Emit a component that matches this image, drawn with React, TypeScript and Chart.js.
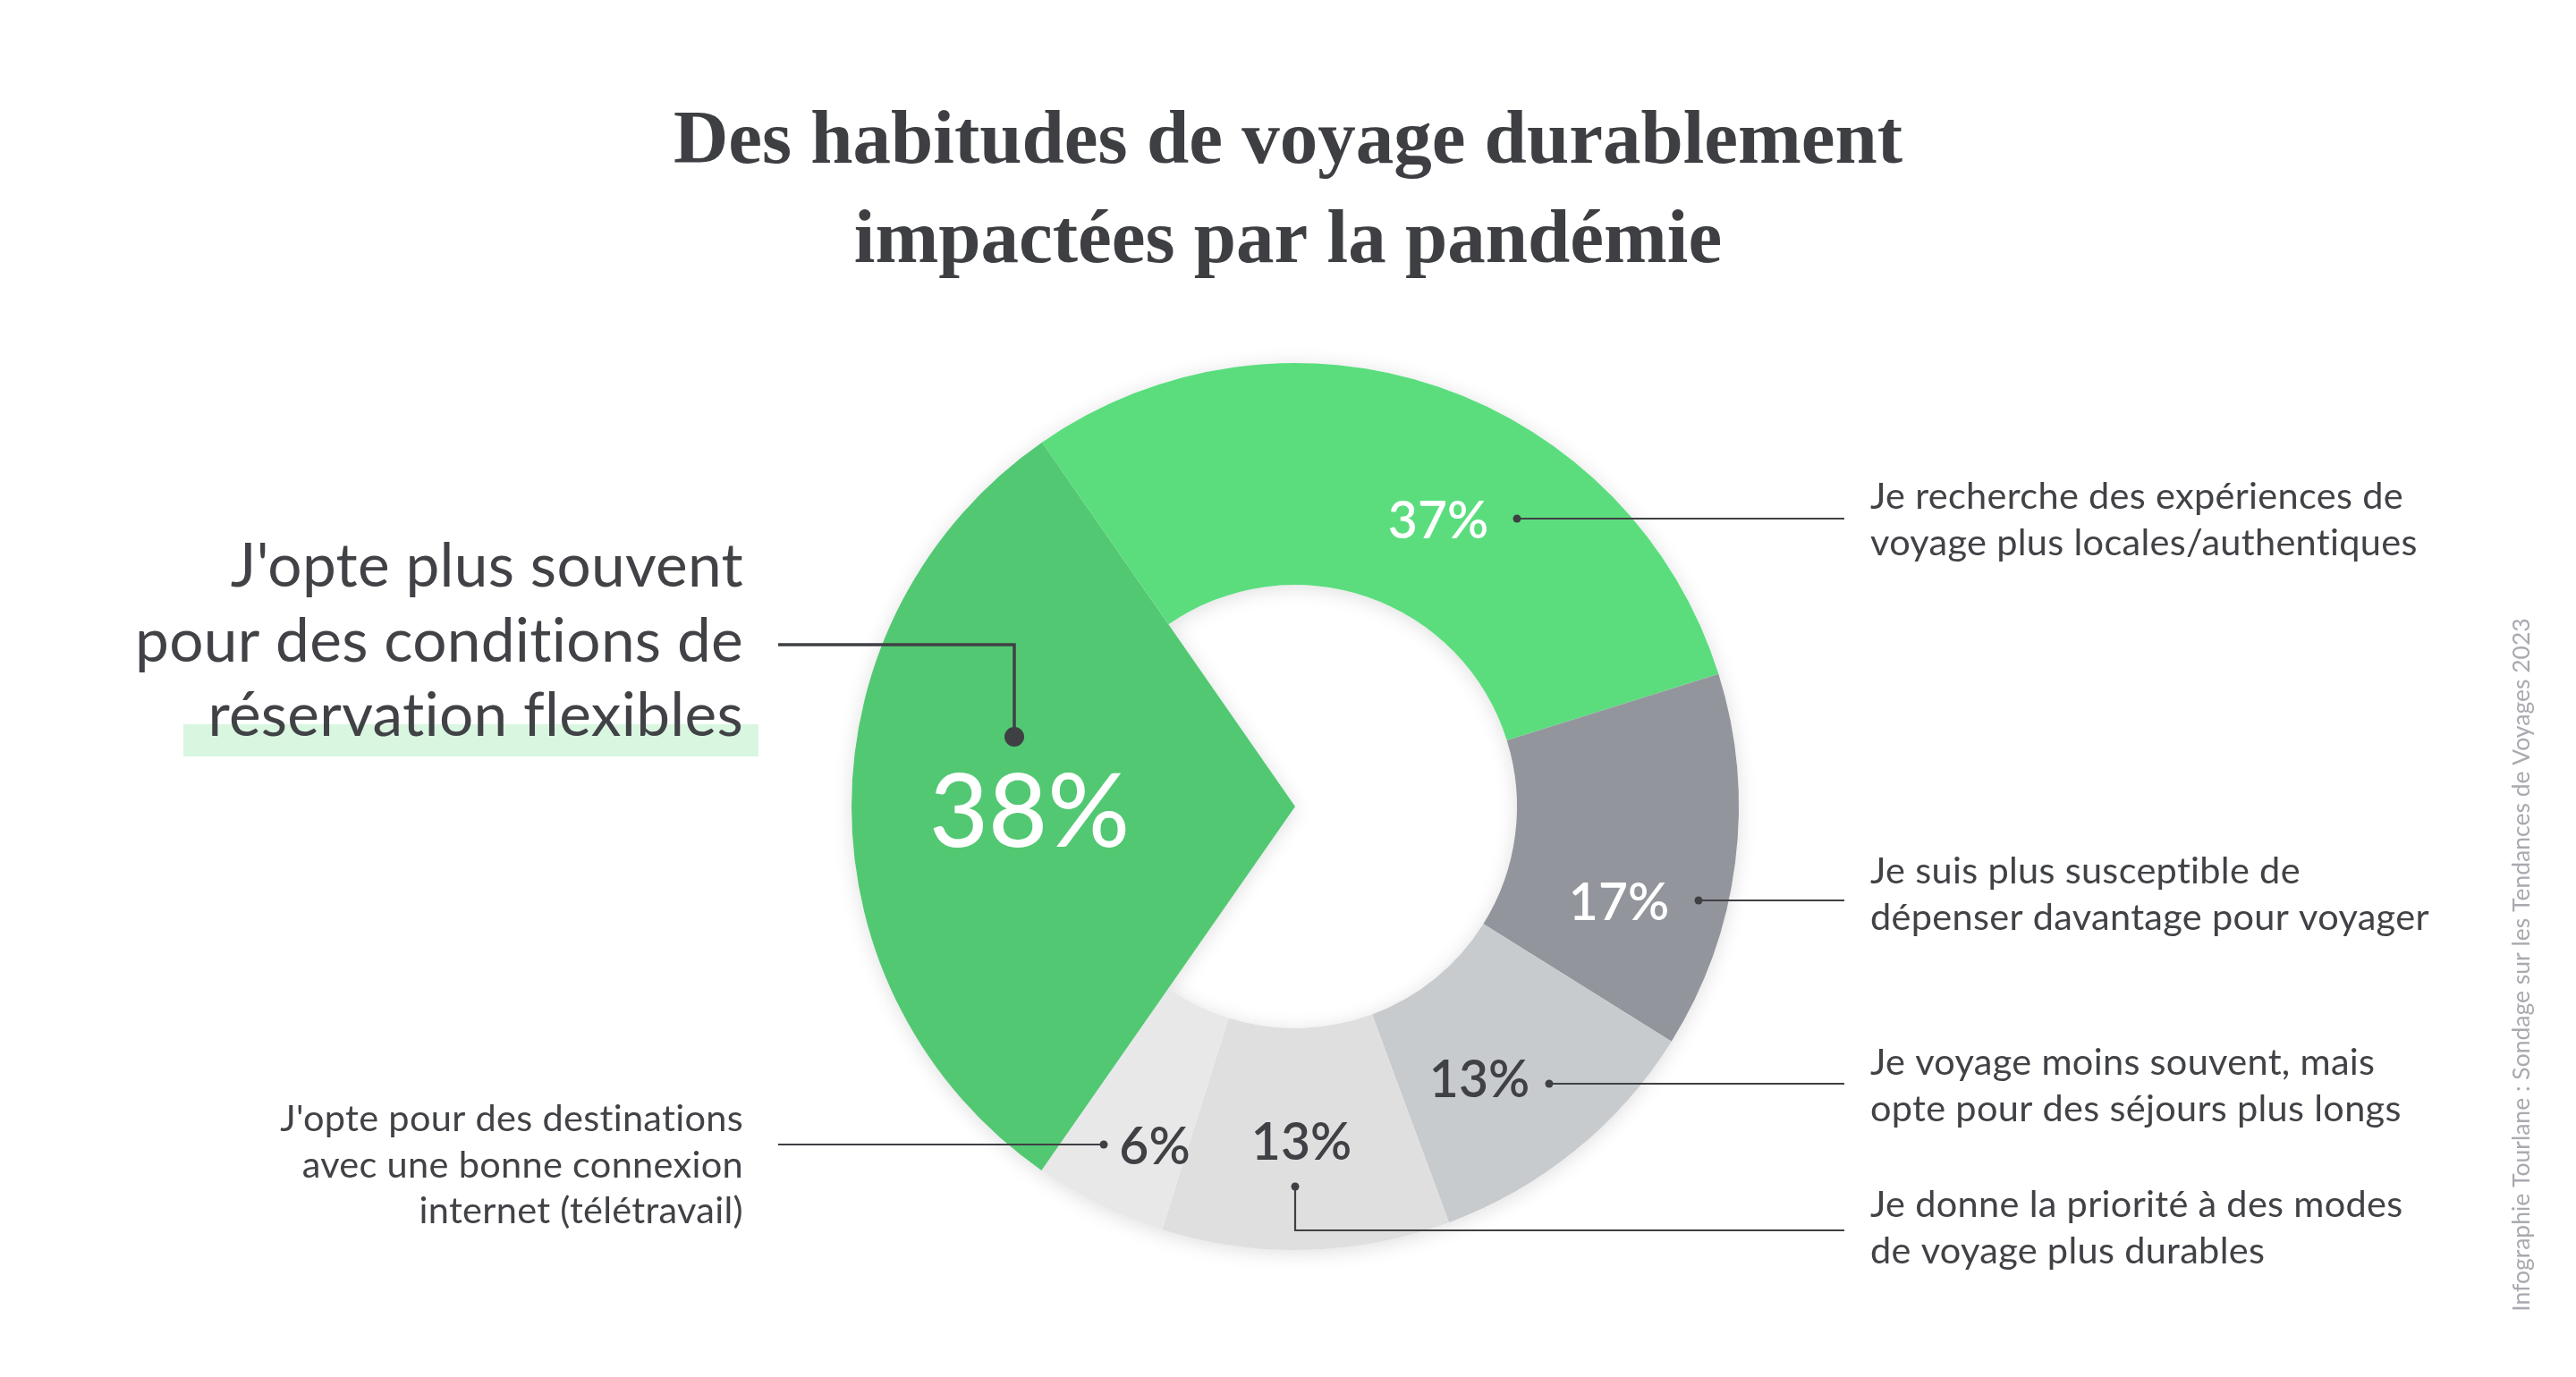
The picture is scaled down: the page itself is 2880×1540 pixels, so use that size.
import React, { useEffect, useRef } from "react";
import { Chart, registerables } from "chart.js";

Chart.register(...registerables);

// ---------- data ----------
const TITLE_LINES = ["Des habitudes de voyage durablement", "impactées par la pandémie"];

const categories = [
  "Je recherche des expériences de voyage plus locales/authentiques",
  "Je suis plus susceptible de dépenser davantage pour voyager",
  "Je voyage moins souvent, mais opte pour des séjours plus longs",
  "Je donne la priorité à des modes de voyage plus durables",
  "J'opte pour des destinations avec une bonne connexion internet (télétravail)",
  "J'opte plus souvent pour des conditions de réservation flexibles",
];

const values = [37, 17, 13, 13, 6, 38];

const categoryLines = [
  ["Je recherche des expériences de", "voyage plus locales/authentiques"],
  ["Je suis plus susceptible de", "dépenser davantage pour voyager"],
  ["Je voyage moins souvent, mais", "opte pour des séjours plus longs"],
  ["Je donne la priorité à des modes", "de voyage plus durables"],
  ["J'opte pour des destinations", "avec une bonne connexion", "internet (télétravail)"],
  ["J'opte plus souvent", "pour des conditions de", "réservation flexibles"],
];

const SOURCE_TEXT = "Infographie Tourlane : Sondage sur les Tendances de Voyages 2023";

// ---------- styles ----------
const sliceColors = ["#5BDD7E", "#93959C", "#C8CBCE", "#DFDFDF", "#E8E8E8", "#52C873"];
const valueColors = ["#FFFFFF", "#FFFFFF", "#404145", "#404145", "#404145", "#FFFFFF"];
const WEDGE_INDEX = 5;

const W = 2880;
const H = 1540;
const DARK = "#414246";
const SANS = "Lato, 'Open Sans', sans-serif";
const SERIF = "'Liberation Serif', 'DejaVu Serif', serif";

// layout of annotations (pixel positions)
const valuePos = [
  { x: 1608, y: 602, size: 57, weight: 600 },
  { x: 1810, y: 1029, size: 57, weight: 600 },
  { x: 1654, y: 1227, size: 57, weight: 600 },
  { x: 1455, y: 1297, size: 57, weight: 600 },
  { x: 1291, y: 1302, size: 57, weight: 600 },
  { x: 1151, y: 947, size: 114, weight: 500 },
];

const labelPos = [
  { x: 2091, y: 569, align: "left", size: 41.5, lh: 51.5 },
  { x: 2091, y: 988, align: "left", size: 41.5, lh: 51.5 },
  { x: 2091, y: 1202, align: "left", size: 41.5, lh: 51.5 },
  { x: 2091, y: 1361, align: "left", size: 41.5, lh: 51.5 },
  { x: 831, y: 1265, align: "right", size: 41.5, lh: 51.5 },
  { x: 831, y: 656, align: "right", size: 67.5, lh: 83.5 },
];

// connector polylines, first point is the dot
const connectors = [
  { pts: [[1696, 580], [2062, 580]], w: 2.2, r: 4.5 },
  { pts: [[1899, 1007], [2062, 1007]], w: 2.2, r: 4.5 },
  { pts: [[1732, 1212], [2062, 1212]], w: 2.2, r: 4.5 },
  { pts: [[1448, 1327], [1448, 1376], [2062, 1376]], w: 2.2, r: 4.5 },
  { pts: [[1234, 1280], [870, 1280]], w: 2.2, r: 4.5 },
  { pts: [[1134, 824], [1134, 721], [870, 721]], w: 3.5, r: 11 },
];

const ROTATION = -34.8;

const wedgePlugin = {
  id: "wedgeAndAnnotations",
  beforeDatasetsDraw(chart: any) {
    const meta = chart.getDatasetMeta(0);
    const arcs = meta.data;
    if (!arcs || !arcs.length) return;
    const w = arcs[WEDGE_INDEX];
    w.innerRadius = 0;
    const inner = arcs[0].innerRadius;
    const { x, y, outerRadius } = w;
    const ctx = chart.ctx;
    ctx.save();
    ctx.beginPath();
    ctx.arc(x, y, outerRadius, 0, Math.PI * 2);
    ctx.closePath();
    ctx.moveTo(x, y);
    ctx.lineTo(x + inner * Math.cos(w.endAngle), y + inner * Math.sin(w.endAngle));
    ctx.arc(x, y, inner, w.endAngle, w.startAngle + Math.PI * 2);
    ctx.closePath();
    ctx.shadowColor = "rgba(0,0,0,0.13)";
    ctx.shadowBlur = 22;
    ctx.shadowOffsetY = 3;
    ctx.fillStyle = "#ffffff";
    ctx.fill("evenodd");
    ctx.restore();
  },
  afterDraw(chart: any) {
    const ctx = chart.ctx as any;
    ctx.save();

    // highlight under the last line of the main label
    ctx.fillStyle = "#D9F6E0";
    ctx.fillRect(205, 810, 643, 36);

    // title
    ctx.fillStyle = "#3E3F43";
    ctx.textAlign = "center";
    ctx.textBaseline = "alphabetic";
    ctx.font = `bold 85px ${SERIF}`;
    ctx.fillText(TITLE_LINES[0], 1440, 182);
    ctx.fillText(TITLE_LINES[1], 1440, 293);

    // category labels
    if ("letterSpacing" in ctx) ctx.letterSpacing = "0.3px";
    categoryLines.forEach((lines, i) => {
      const p = labelPos[i];
      ctx.fillStyle = DARK;
      ctx.textAlign = p.align as CanvasTextAlign;
      ctx.font = `400 ${p.size}px ${SANS}`;
      lines.forEach((ln, k) => ctx.fillText(ln, p.x, p.y + k * p.lh));
    });
    if ("letterSpacing" in ctx) ctx.letterSpacing = "0px";

    // connectors
    ctx.strokeStyle = "#3F4044";
    ctx.fillStyle = "#3F4044";
    connectors.forEach((c) => {
      ctx.lineWidth = c.w;
      ctx.beginPath();
      c.pts.forEach(([px, py], k) => (k === 0 ? ctx.moveTo(px, py) : ctx.lineTo(px, py)));
      ctx.stroke();
      ctx.beginPath();
      ctx.arc(c.pts[0][0], c.pts[0][1], c.r, 0, Math.PI * 2);
      ctx.fill();
    });

    // value labels
    ctx.textAlign = "center";
    values.forEach((v, i) => {
      const p = valuePos[i];
      ctx.fillStyle = valueColors[i];
      ctx.font = `${p.weight} ${p.size}px ${SANS}`;
      ctx.fillText(`${v}%`, p.x, p.y);
    });

    // vertical source
    ctx.save();
    ctx.translate(2819, 1079);
    ctx.rotate(-Math.PI / 2);
    ctx.fillStyle = "#A8AAAF";
    ctx.textAlign = "center";
    ctx.textBaseline = "middle";
    ctx.font = `400 26.5px ${SANS}`;
    ctx.fillText(SOURCE_TEXT, 0, 0);
    ctx.restore();

    ctx.restore();
  },
};

export default function App() {
  const ref = useRef<HTMLCanvasElement>(null);
  useEffect(() => {
    if (!ref.current) return;
    const chart = new Chart(ref.current, {
      type: "doughnut",
      data: {
        labels: categories,
        datasets: [
          {
            data: values,
            backgroundColor: sliceColors,
            borderWidth: 0,
            hoverBorderWidth: 0,
            hoverOffset: 0,
            offset: 0,
          } as any,
        ],
      },
      options: {
        responsive: false,
        maintainAspectRatio: false,
        animation: false,
        devicePixelRatio: 1,
        cutout: "50%",
        rotation: ROTATION,
        events: [],
        layout: { padding: { left: 952, right: 936, top: 406, bottom: 142 } },
        plugins: {
          legend: { display: false },
          tooltip: { enabled: false },
          title: { display: false },
        },
      } as any,
      plugins: [wedgePlugin as any],
    });
    return () => chart.destroy();
  }, []);
  return (
    <div style={{ position: "fixed", left: 0, top: 0, width: W, height: H, background: "#ffffff" }}>
      <canvas ref={ref} width={W} height={H} style={{ display: "block", width: W, height: H }} />
    </div>
  );
}
